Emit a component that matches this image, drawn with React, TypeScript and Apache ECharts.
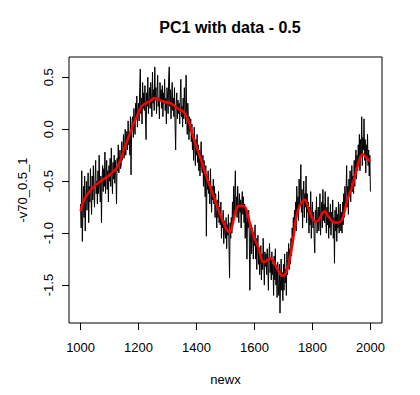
import React, { useEffect, useRef } from "react";
import * as echarts from "echarts";

const startYear = 1000;
const stepYears = 2;

// raw series, one value every 2 years from 1000 to 2000 (rows of 20 years)
const rawValues: number[] = [
  -0.72, -0.95, -0.40, -1.08, -0.80, -0.55, -0.85, -0.45, -0.98, -0.70,
  -0.50, -0.78, -0.62, -0.42, -0.90, -0.55, -0.70, -0.38, -0.66, -0.82,
  -0.45, -0.68, -0.35, -0.60, -0.75, -0.48, -0.30, -0.62, -0.50, -0.72,
  -0.40, -0.62, -0.25, -0.55, -0.70, -0.45, -0.90, -0.52, -0.35, -0.60,
  -0.38, -0.55, -0.22, -0.62, -0.45, -0.30, -0.58, -0.40, -0.70, -0.35,
  -0.50, -0.28, -0.55, -0.18, -0.45, -0.62, -0.32, -0.48, -0.25, -0.52,
  -0.30, -0.45, -0.72, -0.28, -0.40, -0.15, -0.42, -0.30, -0.20, -0.38,
  -0.35, -0.12, -0.30, -0.22, -0.05, -0.28, -0.18, 0.00, -0.25, -0.10,
  -0.02, -0.20, 0.08, -0.15, -0.05, -0.25, 0.12, -0.44, -0.02, 0.10,
  0.12, -0.08, 0.20, 0.05, -0.05, 0.25, 0.10, 0.32, 0.02, 0.18,
  0.25, 0.08, 0.40, 0.58, 0.15, 0.30, 0.05, 0.45, 0.20, 0.35,
  0.18, 0.42, 0.10, -0.10, 0.35, 0.22, 0.50, 0.15, 0.30, 0.40,
  0.20, 0.45, 0.30, 0.12, 0.55, 0.25, 0.38, 0.18, 0.60, 0.28,
  0.40, 0.15, 0.35, 0.52, 0.22, 0.30, 0.10, 0.45, 0.28, 0.38,
  0.20, 0.42, 0.12, 0.35, 0.25, 0.48, 0.18, 0.30, 0.05, 0.40,
  0.32, 0.15, 0.50, 0.60, 0.22, 0.38, 0.10, 0.28, 0.45, 0.18,
  0.30, 0.12, 0.40, 0.05, -0.20, 0.25, 0.35, 0.10, 0.28, 0.15,
  0.25, 0.05, 0.32, 0.48, 0.12, 0.22, 0.02, 0.30, 0.10, 0.40,
  0.20, 0.05, 0.52, 0.15, -0.05, 0.25, 0.08, -0.10, 0.12, -0.02,
  0.10, -0.12, 0.05, -0.20, -0.05, -0.30, 0.02, -0.15, -0.35, -0.10,
  -0.25, -0.05, -0.32, -0.15, -0.40, -0.20, -0.45, -0.28, -0.12, -0.38,
  -0.42, -0.25, -0.55, -0.30, -0.48, -0.65, -0.35, -1.03, -0.45, -0.58,
  -0.40, -0.62, -0.50, -0.72, -0.38, -0.60, -0.80, -0.55, -0.68, -0.48,
  -0.72, -0.55, -0.85, -0.62, -0.78, -0.95, -0.68, -0.85, -0.60, -0.90,
  -0.75, -0.92, -0.70, -1.05, -0.85, -0.95, -0.78, -1.10, -0.88, -1.00,
  -1.05, -0.85, -1.15, -0.92, -1.02, -0.82, -1.12, -1.43, -0.90, -1.05,
  -0.85, -1.00, -0.70, -0.90, -0.55, -0.82, -0.62, -0.40, -0.78, -0.65,
  -0.85, -0.55, -0.75, -0.90, -0.62, -0.80, -0.68, -0.95, -0.72, -0.60,
  -0.82, -0.65, -0.90, -0.72, -1.05, -0.78, -0.88, -1.25, -0.80, -0.95,
  -0.78, -1.00, -1.55, -1.10, -0.92, -1.20, -0.95, -1.05, -1.25, -1.00,
  -1.12, -0.92, -1.25, -1.05, -1.35, -1.10, -1.02, -1.30, -1.15, -1.40,
  -1.30, -1.12, -1.45, -1.20, -1.35, -1.05, -1.28, -1.50, -1.18, -1.32,
  -1.20, -1.40, -1.15, -1.32, -1.55, -1.22, -1.10, -1.38, -1.25, -1.45,
  -1.18, -1.40, -1.30, -1.60, -1.22, -1.45, -1.15, -1.50, -1.35, -1.62,
  -1.28, -1.50, -1.60, -1.30, -1.77, -1.45, -1.25, -1.55, -1.38, -1.65,
  -1.30, -1.55, -1.20, -1.48, -1.35, -1.60, -1.18, -1.40, -1.25, -1.10,
  -1.35, -1.15, -1.30, -1.05, -1.22, -0.95, -1.10, -0.85, -1.02, -0.78,
  -0.90, -0.70, -0.98, -0.55, -0.80, -0.65, -0.88, -0.48, -0.72, -0.60,
  -0.34, -0.80, -0.58, -0.95, -0.65, -0.50, -0.85, -0.62, -0.75, -0.45,
  -0.90, -0.62, -0.80, -0.70, -1.00, -0.75, -0.92, -0.60, -1.05, -0.82,
  -0.70, -0.95, -0.80, -1.05, -1.19, -0.78, -0.90, -0.65, -1.00, -0.85,
  -0.75, -0.98, -0.85, -0.62, -1.02, -0.80, -0.70, -0.95, -0.58, -0.88,
  -0.72, -0.90, -0.60, -0.85, -1.00, -0.75, -0.92, -0.65, -1.05, -0.80,
  -0.95, -0.72, -1.02, -0.80, -0.90, -0.68, -1.05, -0.85, -1.29, -0.78,
  -0.98, -0.75, -1.08, -0.82, -0.95, -0.70, -1.00, -0.85, -0.72, -0.98,
  -0.80, -1.00, -0.70, -0.92, -0.62, -0.85, -0.55, -0.78, -0.60, -0.35,
  -0.75, -0.55, -0.82, -0.48, -0.65, -0.40, -0.70, -0.52, -0.35, -0.60,
  -0.45, -0.62, -0.30, -0.55, -0.38, -0.20, -0.48, -0.25, -0.40, -0.15,
  -0.30, -0.05, -0.40, -0.10, -0.25, 0.12, -0.35, -0.08, -0.20, 0.10,
  -0.30, -0.10, -0.42, -0.15, -0.28, -0.05, -0.35, -0.20, -0.45, -0.25,
  -0.60,
];

// smoothed curve (red)
const smoothYears: number[] = [
  1000, 1010, 1025, 1050, 1075, 1100, 1125, 1140, 1150, 1165, 1180, 1195,
  1210, 1225, 1240, 1255, 1265, 1280, 1295, 1310, 1325, 1340, 1355, 1365,
  1375, 1385, 1400, 1415, 1430, 1445, 1460, 1475, 1490, 1505, 1515, 1525,
  1535, 1545, 1560, 1570, 1580, 1590, 1600, 1615, 1630, 1640, 1655, 1665,
  1680, 1695, 1705, 1715, 1725, 1735, 1745, 1755, 1765, 1775, 1785, 1795,
  1810, 1820, 1830, 1842, 1855, 1870, 1885, 1900, 1910, 1920, 1935, 1945,
  1955, 1965, 1975, 1985, 2000,
];
const smoothValues: number[] = [
  -0.79, -0.69, -0.62, -0.54, -0.49, -0.44, -0.37, -0.28, -0.19, -0.08, 0.03, 0.13,
  0.22, 0.25, 0.27, 0.30, 0.29, 0.27, 0.26, 0.25, 0.22, 0.19, 0.17, 0.12,
  0.06, -0.04, -0.17, -0.29, -0.42, -0.54, -0.65, -0.77, -0.88, -0.97, -0.99, -0.91,
  -0.79, -0.74, -0.74, -0.76, -0.86, -0.96, -1.05, -1.15, -1.28, -1.27, -1.24, -1.27,
  -1.35, -1.41, -1.40, -1.33, -1.20, -1.03, -0.84, -0.74, -0.70, -0.68, -0.75, -0.83,
  -0.89, -0.88, -0.83, -0.79, -0.84, -0.89, -0.90, -0.88, -0.80, -0.68, -0.57, -0.47,
  -0.36, -0.27, -0.24, -0.27, -0.31,
];

const xTicks: number[] = [1000, 1200, 1400, 1600, 1800, 2000];
const yTicks: number[] = [-1.5, -1.0, -0.5, 0.0, 0.5];

const titleText = "PC1 with data - 0.5";
const xName = "newx";
const yName = "-v70_0.5_1";

const FONT = "'Liberation Sans', Arial, Helvetica, sans-serif";

export default function App() {
  const ref = useRef<HTMLDivElement>(null);
  useEffect(() => {
    if (!ref.current) return;
    const chart = echarts.init(ref.current, undefined, { renderer: "svg" });
    const raw = rawValues.map((v, i) => [startYear + i * stepYears, v]);
    const smooth = smoothYears.map((y, i) => [y, smoothValues[i]]);
    chart.setOption({
      animation: false,
      backgroundColor: "#ffffff",
      title: {
        text: titleText,
        left: 225,
        textAlign: "center",
        top: 14,
        textStyle: { fontFamily: FONT, fontSize: 16, fontWeight: "bold", color: "#000" },
      },
      grid: {
        left: 69,
        right: 38,
        top: 57,
        bottom: 72,
        show: true,
        borderColor: "#000",
        borderWidth: 1,
        backgroundColor: "transparent",
      },
      xAxis: {
        type: "value",
        min: 960,
        max: 2040,
        name: xName,
        nameLocation: "middle",
        nameGap: 50,
        nameTextStyle: { fontFamily: FONT, fontSize: 13, color: "#000" },
        axisLine: { show: false, onZero: false },
        splitLine: { show: false },
        axisTick: {
          show: true,
          length: 7,
          lineStyle: { color: "#000" },
          customValues: xTicks,
        },
        axisLabel: {
          fontFamily: FONT,
          fontSize: 13,
          color: "#000",
          margin: 18,
          customValues: xTicks,
          formatter: (v: number) => String(v),
        },
      },
      yAxis: {
        type: "value",
        min: -1.865,
        max: 0.695,
        name: yName,
        nameLocation: "middle",
        nameGap: 40,
        nameTextStyle: { fontFamily: FONT, fontSize: 13, color: "#000" },
        axisLine: { show: false, onZero: false },
        splitLine: { show: false },
        axisTick: {
          show: true,
          length: 7,
          lineStyle: { color: "#000" },
          customValues: yTicks,
        },
        axisLabel: {
          fontFamily: FONT,
          fontSize: 13,
          color: "#000",
          rotate: 90,
          margin: 14,
          customValues: yTicks,
          formatter: (v: number) => v.toFixed(1),
        },
      },
      series: [
        {
          type: "line",
          data: raw,
          showSymbol: false,
          lineStyle: { color: "#000", width: 1 },
          z: 2,
        },
        {
          type: "line",
          data: smooth,
          showSymbol: false,
          smooth: 0.3,
          lineStyle: { color: "#ff0000", width: 2.5 },
          z: 3,
        },
      ],
    });
    return () => chart.dispose();
  }, []);
  return (
    <div
      ref={ref}
      style={{ position: "fixed", left: 0, top: 0, width: 420, height: 395 }}
    />
  );
}
